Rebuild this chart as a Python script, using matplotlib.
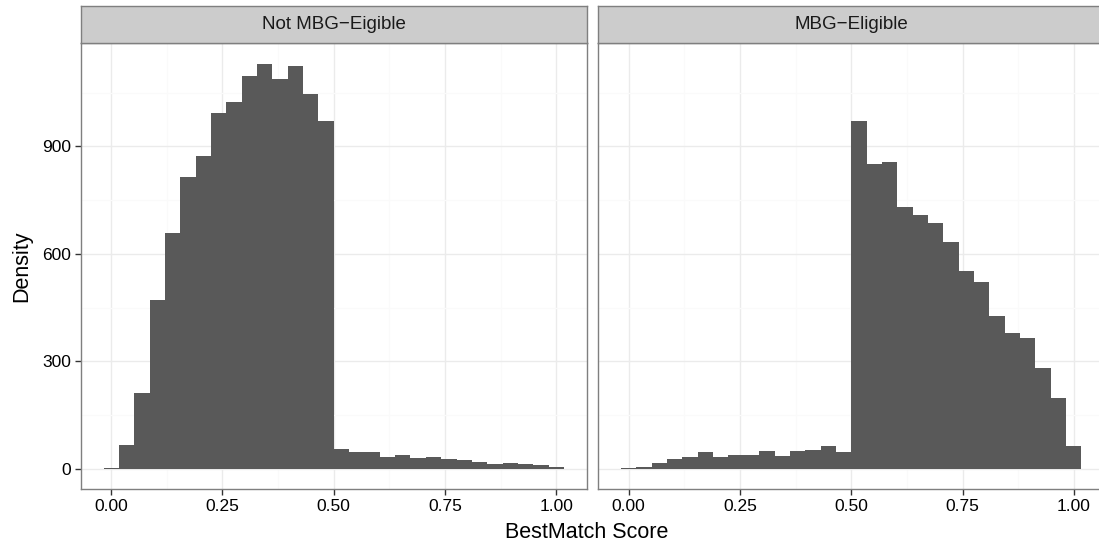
import numpy as np
import matplotlib
matplotlib.use("Agg")
import matplotlib.pyplot as plt

# histogram counts (30 bins, 0..1)
panels = ["Not MBG\u2212Eigible", "MBG\u2212Eligible"]
not_eligible = [2, 65, 212, 472, 658, 815, 874, 994, 1025, 1095,
                1131, 1087, 1123, 1045, 972, 56, 48, 47, 34, 39,
                31, 34, 28, 25, 20, 13, 17, 14, 11, 6]
eligible = [2, 5, 16, 27, 33, 47, 33, 38, 38, 49,
            35, 49, 52, 63, 47, 970, 850, 855, 730, 707,
            687, 634, 553, 522, 427, 380, 366, 282, 197, 63]
x_ticks = [0.0, 0.25, 0.5, 0.75, 1.0]
x_labels = ["0.00", "0.25", "0.50", "0.75", "1.00"]
y_ticks = [0, 300, 600, 900]

plt.rcParams['font.family'] = ['Liberation Sans', 'DejaVu Sans']

W, H = 1099, 546
fig = plt.figure(figsize=(W / 100, H / 100), dpi=100)

n = len(not_eligible)
width = 1 / (n - 1)
centers = np.arange(n) * width
lo, hi = centers[0] - width / 2, centers[-1] + width / 2
pad = (hi - lo) * 0.05
ymax = max(max(not_eligible), max(eligible))

panel_top, panel_bot = 43.3, 489
strip_top = 6
lefts = [80.5, 598]
pw = 506.5

for i, (name, counts) in enumerate(zip(panels, [not_eligible, eligible])):
    x0 = lefts[i]
    ax = fig.add_axes([x0 / W, (H - panel_bot) / H, pw / W, (panel_bot - panel_top) / H])
    ax.set_axisbelow(True)
    ax.bar(centers, counts, width=width, color='#595959', linewidth=0)
    ax.set_xlim(lo - pad, hi + pad)
    ax.set_ylim(-ymax * 0.05, ymax * 1.05)
    ax.set_xticks(x_ticks)
    ax.set_xticklabels(x_labels)
    ax.set_xticks([0.125, 0.375, 0.625, 0.875], minor=True)
    ax.set_yticks(y_ticks)
    ax.set_yticks([150, 450, 750, 1050], minor=True)
    ax.grid(which='major', color='#EBEBEB', linewidth=1.0)
    ax.grid(which='minor', color='#FAFAFA', linewidth=1.0)
    ax.tick_params(which='minor', length=0)
    ax.tick_params(which='major', length=4, width=1, color='#333333',
                   labelsize=12.5, labelcolor='black', pad=3)
    if i > 0:
        ax.tick_params(axis='y', which='both', left=False, labelleft=False)
    for s in ax.spines.values():
        s.set_color('#7F7F7F')
        s.set_linewidth(1.0)

    sax = fig.add_axes([x0 / W, (H - panel_top) / H, pw / W, (panel_top - strip_top) / H])
    sax.set_facecolor('#CCCCCC')
    sax.set_xticks([])
    sax.set_yticks([])
    for s in sax.spines.values():
        s.set_color('#7F7F7F')
        s.set_linewidth(1.0)
    sax.text(0.5, 0.5, name, ha='center', va='center', fontsize=13.5, color='#1A1A1A',
             transform=sax.transAxes)

fig.text(587 / W, 1 - 533 / H, "BestMatch Score", ha='center', va='center', fontsize=15.5)
fig.text(22 / W, 1 - 266 / H, "Density", ha='center', va='center', rotation=90, fontsize=15.5)

fig.savefig("out.png", dpi=100)
